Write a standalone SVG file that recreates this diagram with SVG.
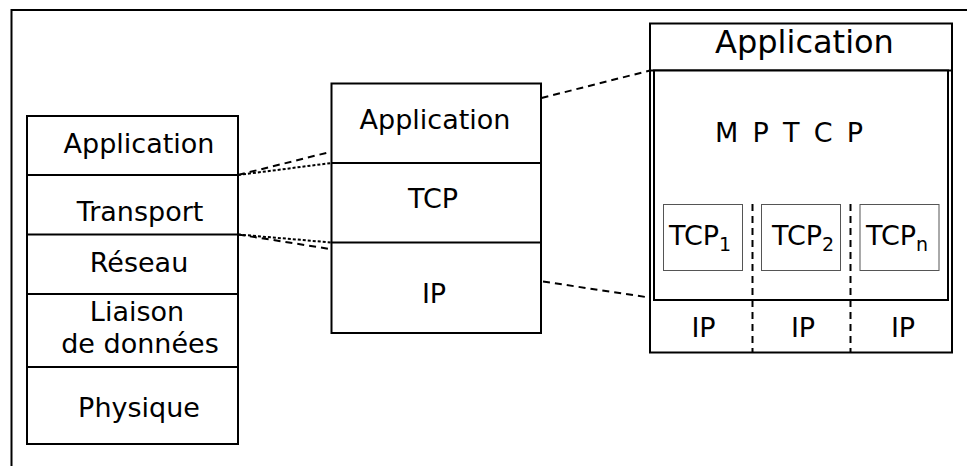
<svg xmlns="http://www.w3.org/2000/svg" width="967" height="466" viewBox="0 0 967 466">
<style>
  .box { fill: #ffffff; stroke: #000000; stroke-width: 2; }
  .ln { stroke: #000000; stroke-width: 2; fill: none; }
  .sub { fill: #ffffff; stroke: #555555; stroke-width: 1; }
  .dash { stroke: #000000; stroke-width: 2; stroke-dasharray: 7 5; fill: none; }
  .dot { stroke: #000000; stroke-width: 2; stroke-dasharray: 3 2; fill: none; }
  text { font-family: "DejaVu Sans", Verdana, sans-serif; font-size: 27px; fill: #000000; }
  .c { text-anchor: middle; }
  .s { font-size: 19px; }
</style>
<rect width="967" height="466" fill="#ffffff"/>
<g id="frame">
  <path class="ln" d="M11.5,466 V10 H967"/>
</g>
<g id="connectors">
  <line class="dash" x1="238" y1="175" x2="330" y2="152"/>
  <line class="dot" x1="238" y1="175" x2="331.5" y2="163"/>
  <line class="dot" x1="238" y1="234.5" x2="331.5" y2="242.5"/>
  <line class="dash" x1="238" y1="234.5" x2="330" y2="249"/>
  <line class="dash" x1="541.5" y1="98" x2="650" y2="70.5"/>
  <line class="dash" x1="543" y1="281.5" x2="649" y2="297.5"/>
</g>
<g id="osi-stack">
  <rect class="box" x="27" y="116" width="211" height="328"/>
  <line class="ln" x1="27" y1="175" x2="238" y2="175"/>
  <line class="ln" x1="27" y1="234.5" x2="238" y2="234.5"/>
  <line class="ln" x1="27" y1="294" x2="238" y2="294"/>
  <line class="ln" x1="27" y1="367" x2="238" y2="367"/>
  <text class="c" x="139" y="153">Application</text>
  <text class="c" x="140" y="221">Transport</text>
  <text class="c" x="139" y="272">Réseau</text>
  <text class="c" x="137" y="321">Liaison</text>
  <text class="c" x="140" y="353">de données</text>
  <text class="c" x="139" y="417">Physique</text>
</g>
<g id="tcpip-stack">
  <rect class="box" x="331.5" y="83.5" width="209.5" height="249.5"/>
  <line class="ln" x1="331.5" y1="163" x2="541" y2="163"/>
  <line class="ln" x1="331.5" y1="242.5" x2="541" y2="242.5"/>
  <text class="c" x="435" y="129">Application</text>
  <text class="c" x="433" y="208">TCP</text>
  <text class="c" x="434" y="303">IP</text>
</g>
<g id="mptcp-stack">
  <rect class="box" x="650" y="23.5" width="302" height="329"/>
  <line class="ln" x1="650" y1="70.5" x2="952" y2="70.5"/>
  <rect class="box" x="654" y="70.5" width="294" height="229.5"/>
  <text class="c" x="804.5" y="53" style="font-size:32px">Application</text>
  <text x="715" y="142" textLength="148" lengthAdjust="spacing">M P T C P</text>
  <line class="dash" x1="752.5" y1="204" x2="752.5" y2="352"/>
  <line class="dash" x1="850.5" y1="204" x2="850.5" y2="352"/>
  <text class="c" x="703.5" y="337">IP</text>
  <text class="c" x="803" y="337">IP</text>
  <text class="c" x="903" y="337">IP</text>
</g>
<g id="tcp1">
  <rect class="sub" x="663.5" y="204.5" width="79" height="66"/>
  <text x="669" y="245">TCP<tspan class="s" dy="6">1</tspan></text>
</g>
<g id="tcp2">
  <rect class="sub" x="761.5" y="204.5" width="79" height="66"/>
  <text x="772" y="245">TCP<tspan class="s" dy="6">2</tspan></text>
</g>
<g id="tcpn">
  <rect class="sub" x="860" y="204.5" width="79" height="66"/>
  <text x="866" y="245">TCP<tspan class="s" dy="6">n</tspan></text>
</g>
</svg>
